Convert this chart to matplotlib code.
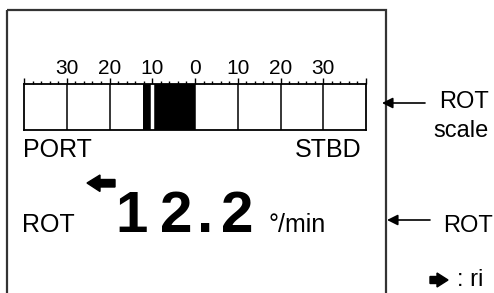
import matplotlib
matplotlib.use("Agg")
import matplotlib.pyplot as plt
import numpy as np
from matplotlib.patches import Rectangle, Polygon

plt.rcParams['font.family'] = ['Liberation Sans', 'DejaVu Sans']

# scale data
scale_min, scale_max = -40, 40
major_ticks = [-40, -30, -20, -10, 0, 10, 20, 30, 40]
major_labels = ['', '30', '20', '10', '0', '10', '20', '30', '']
minor_ticks = list(range(-40, 41, 2))
cell_lines = [-30, -20, -10, 0, 10, 20, 30]
rot_value = -12.2          # negative = port
rot_digits = ['1', '2', '.', '2']

fig = plt.figure(figsize=(4.94, 2.93), dpi=100)

# background overlay in pixel coordinates
bg = fig.add_axes([0, 0, 1, 1])
bg.set_xlim(0, 494)
bg.set_ylim(293, 0)
bg.axis('off')

# display frame
bg.add_patch(Rectangle((7, 10), 379, 300, fill=False, edgecolor='#333333', lw=1.6))

# ROT bar scale
W, H = 494, 293
sc = fig.add_axes([24 / W, 1 - 130 / H, 342 / W, 46 / H])
sc.set_xlim(scale_min, scale_max)
sc.set_ylim(0, 1)
sc.set_facecolor('none')
for v in cell_lines:
    sc.axvline(v, color='black', lw=1.1)
sc.barh(0.5, rot_value, height=1, left=0, color='black')
for v in cell_lines:
    if rot_value <= v < 0:
        sc.axvline(v, color='white', lw=2.5)
for s in sc.spines.values():
    s.set_linewidth(1.3)
sc.xaxis.set_ticks_position('top')
sc.set_xticks(major_ticks)
sc.set_xticklabels(major_labels)
sc.set_xticks(minor_ticks, minor=True)
sc.tick_params(axis='x', which='major', length=4, width=1, pad=0.5, labelsize=15)
sc.tick_params(axis='x', which='minor', length=2.3, width=1)
sc.set_yticks([])

# labels under scale
bg.text(23, 157, 'PORT', fontsize=18, ha='left', va='baseline')
bg.text(361, 157, 'STBD', fontsize=18, ha='right', va='baseline')

# direction arrow (port turn)
bg.add_patch(Polygon([(87, 183), (100, 175), (100, 179.5), (115, 179.5),
                      (115, 187), (100, 187), (100, 191.5)], closed=True, color='black'))

# readout
bg.text(22, 232, 'ROT', fontsize=18, ha='left', va='baseline')
digit_x = [132, 176, 205, 237.5]
for ch, x in zip(rot_digits, digit_x):
    bg.text(x, 232, ch, fontsize=42, fontweight='bold', ha='center', va='baseline')
bg.text(268, 232, '°/min', fontsize=18, ha='left', va='baseline')

# callouts on the right
arrow_kw = dict(arrowstyle='-|>', color='black', lw=1.2, mutation_scale=16, shrinkA=0, shrinkB=0)
bg.annotate('', xy=(382, 103), xytext=(425, 103), arrowprops=arrow_kw)
bg.text(439, 108, 'ROT', fontsize=17, ha='left', va='baseline')
bg.text(433, 137, 'scale', fontsize=17, ha='left', va='baseline')
bg.annotate('', xy=(387, 220), xytext=(430, 220), arrowprops=arrow_kw)
bg.text(443, 232, 'ROT', fontsize=17, ha='left', va='baseline')

bg.add_patch(Polygon([(448, 280), (437, 273), (437, 276.5), (430, 276.5),
                      (430, 283.5), (437, 283.5), (437, 287)], closed=True, color='black'))
bg.text(457, 286, ': ri', fontsize=17, ha='left', va='baseline')

fig.savefig('out.png', dpi=100)
